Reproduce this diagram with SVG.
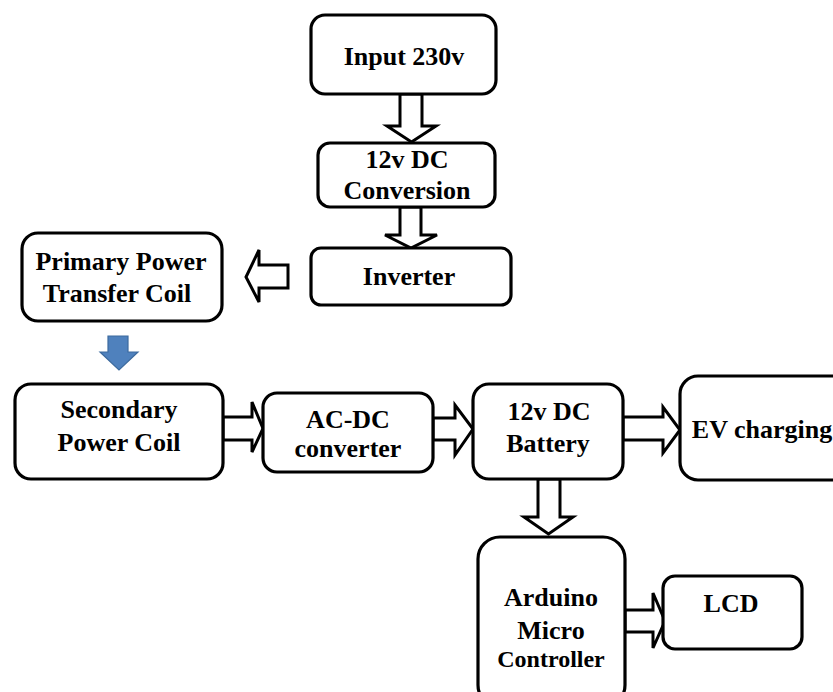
<svg xmlns="http://www.w3.org/2000/svg" width="833" height="692" viewBox="0 0 833 692">
<style>
.box{fill:#fff;stroke:#000;stroke-width:3.2}
.arr{fill:#fff;stroke:#000;stroke-width:3;stroke-linejoin:miter}
.blue{fill:#4F81BD;stroke:#3C6A9E;stroke-width:1.2}
text{font-family:"Liberation Serif","Times New Roman",serif;font-weight:bold;font-size:26px;fill:#000;text-anchor:middle}
</style>
<rect width="833" height="692" fill="#fff"/>
<g id="connectors">
<polygon class="arr" points="400,94 422,94 422,126 436,126 411.5,142 387,126 400,126"/>
<polygon class="arr" points="400,207 421,207 421,235 437,235 411,248 385,235 400,235"/>
<polygon class="arr" points="288,265 288,288 259,288 259,302 246,277 259,250 259,265"/>
<polygon class="blue" points="108,336 128,336 128,352 138,352 119,370 100,352 108,352"/>
<polygon class="arr" points="223,417 252,417 252,402 263,428.5 252,452 252,440 223,440"/>
<polygon class="arr" points="433,418 455,418 455,405 473,429 455,455 455,440 433,440"/>
<polygon class="arr" points="623,417 663,417 663,407 680,430 663,453 663,440 623,440"/>
<polygon class="arr" points="538,479 560,479 560,517 573,517 548.5,534 524,517 538,517"/>
<polygon class="arr" points="625,610 653,610 653,593 665,621 653,648 653,632 625,632"/>
</g>
<g id="input"><rect class="box" x="311" y="15" width="185" height="79" rx="14"/><text x="404" y="65">Input 230v</text></g>
<g id="dcconv"><rect class="box" x="318" y="143" width="177" height="64" rx="12"/><text x="407" y="168">12v DC</text><text x="407" y="199">Conversion</text></g>
<g id="inverter"><rect class="box" x="311" y="248" width="200" height="57" rx="10"/><text x="409" y="285">Inverter</text></g>
<g id="primary"><rect class="box" x="22" y="233" width="200" height="88" rx="16"/><text x="121" y="270">Primary Power</text><text x="117" y="302">Transfer Coil</text></g>
<g id="secondary"><rect class="box" x="15" y="384" width="208" height="95" rx="16"/><text x="119" y="418">Secondary</text><text x="119" y="451">Power Coil</text></g>
<g id="acdc"><rect class="box" x="263" y="393" width="170" height="79" rx="14"/><text x="348" y="428">AC-DC</text><text x="348" y="457">converter</text></g>
<g id="battery"><rect class="box" x="473" y="384" width="150" height="95" rx="16"/><text x="549" y="420">12v DC</text><text x="548" y="452">Battery</text></g>
<g id="ev"><rect class="box" x="680" y="376" width="175" height="104" rx="18"/><text x="762" y="438">EV charging</text></g>
<g id="arduino"><rect class="box" x="478" y="537" width="147" height="170" rx="22"/><text x="551" y="606">Arduino</text><text x="551" y="639">Micro</text><text x="551" y="667" style="font-size:24px">Controller</text></g>
<g id="lcd"><rect class="box" x="663" y="576" width="139" height="73" rx="12"/><text x="731" y="612">LCD</text></g>
</svg>
